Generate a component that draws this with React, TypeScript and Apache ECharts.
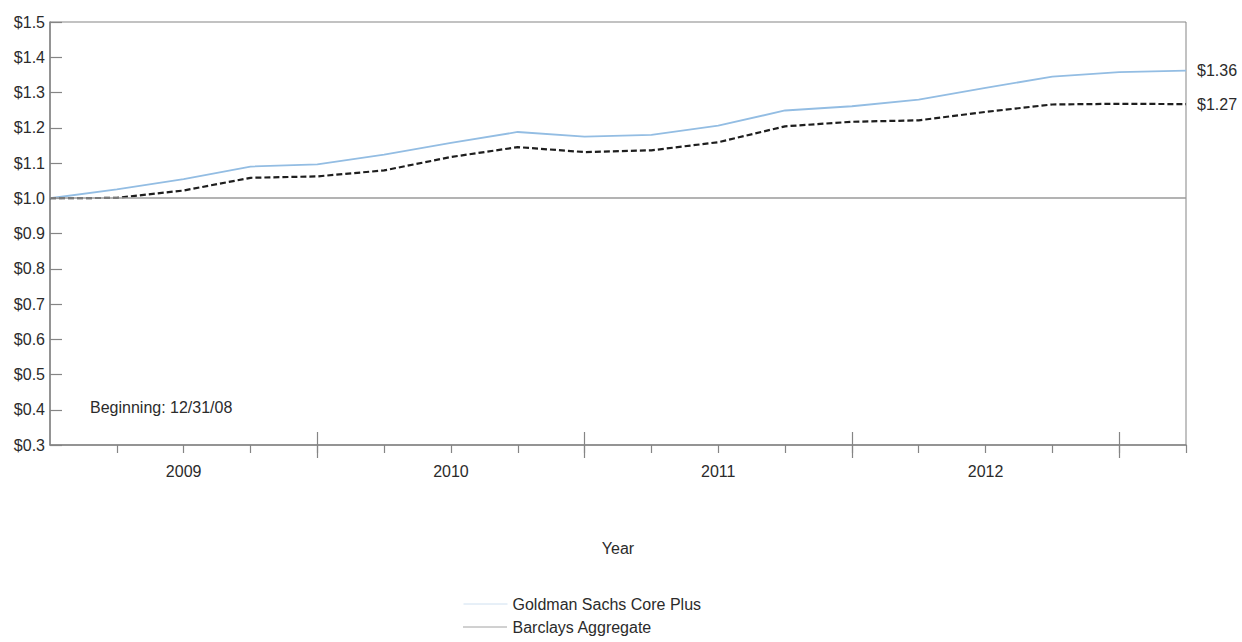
import React, { useEffect, useRef } from "react";
import * as echarts from "echarts";

const quarters = [
  "12/08", "3/09", "6/09", "9/09", "12/09", "3/10", "6/10", "9/10", "12/10",
  "3/11", "6/11", "9/11", "12/11", "3/12", "6/12", "9/12", "12/12", "3/13",
];
const goldmanName = "Goldman Sachs Core Plus";
const barclaysName = "Barclays Aggregate";
const goldman = [
  1.0, 1.025, 1.054, 1.09, 1.096, 1.124, 1.157, 1.188, 1.175, 1.18, 1.206,
  1.249, 1.261, 1.28, 1.313, 1.345, 1.358, 1.362,
];
const barclays = [
  1.0, 1.001, 1.022, 1.058, 1.062, 1.079, 1.117, 1.145, 1.131, 1.136, 1.159,
  1.204, 1.217, 1.221, 1.245, 1.266, 1.268, 1.267,
];
const yMin = 0.3;
const yMax = 1.5;
const yStep = 0.1;
const baseValue = 1.0;
const noteText = "Beginning: 12/31/08";
const xName = "Year";

const FONT = "'Liberation Sans', Arial, sans-serif";
const AXIS = "#858585";
const TEXT = "#2b2b2b";

export default function App() {
  const ref = useRef<HTMLDivElement>(null);
  useEffect(() => {
    if (!ref.current) return;
    const chart = echarts.init(ref.current, undefined, { renderer: "svg" });
    const baseX = {
      type: "category",
      data: quarters,
      boundaryGap: false,
      position: "bottom",
      gridIndex: 0,
    };
    chart.setOption({
      animation: false,
      textStyle: { fontFamily: FONT },
      grid: {
        left: 50,
        right: 56,
        top: 22,
        bottom: 197,
        show: true,
        borderColor: AXIS,
        borderWidth: 1,
      },
      xAxis: [
        {
          ...baseX,
          name: xName,
          nameLocation: "middle",
          nameGap: 95,
          nameTextStyle: { fontSize: 16, color: TEXT, fontFamily: FONT },
          axisLine: { show: true, lineStyle: { color: AXIS, width: 1.5 } },
          axisTick: {
            show: true,
            interval: (i: number) => i > 0,
            length: 8,
            lineStyle: { color: AXIS, width: 1.2 },
          },
          axisLabel: {
            show: true,
            interval: (i: number) => i % 4 === 2,
            formatter: (v: string) => "20" + v.split("/")[1],
            margin: 18,
            fontSize: 16,
            color: TEXT,
            fontFamily: FONT,
          },
          splitLine: { show: false },
        },
        {
          ...baseX,
          axisLine: { show: false },
          axisTick: {
            show: true,
            interval: (i: number) => i > 0 && i % 4 === 0,
            length: 13,
            lineStyle: { color: AXIS, width: 1.2 },
          },
          axisLabel: { show: false },
          splitLine: { show: false },
        },
        {
          ...baseX,
          axisLine: { show: false },
          axisTick: {
            show: true,
            inside: true,
            interval: (i: number) => i > 0 && i % 4 === 0,
            length: 13,
            lineStyle: { color: AXIS, width: 1.2 },
          },
          axisLabel: { show: false },
          splitLine: { show: false },
        },
      ],
      yAxis: {
        type: "value",
        min: yMin,
        max: yMax,
        interval: yStep,
        axisLine: { show: true, lineStyle: { color: AXIS, width: 1.5 } },
        axisTick: {
          show: true,
          inside: true,
          length: 12,
          lineStyle: { color: AXIS, width: 1.2 },
        },
        axisLabel: {
          formatter: (v: number) => "$" + v.toFixed(1),
          margin: 5,
          fontSize: 16,
          color: TEXT,
          fontFamily: FONT,
        },
        splitLine: { show: false },
      },
      legend: {
        orient: "vertical",
        left: 463,
        top: 596,
        itemWidth: 44,
        itemHeight: 14,
        itemGap: 7,
        padding: 0,
        textStyle: { fontSize: 16, color: TEXT, fontFamily: FONT },
        data: [
          {
            name: goldmanName,
            itemStyle: { opacity: 0 },
            lineStyle: { color: "#cfe0f0", width: 1, type: "solid" },
          },
          {
            name: barclaysName,
            itemStyle: { opacity: 0 },
            lineStyle: { color: "#444", width: 1, type: [1, 1] },
          },
        ],
      },
      graphic: [
        {
          type: "text",
          left: 90,
          top: 399,
          style: {
            text: noteText,
            fontSize: 16,
            fill: TEXT,
            fontFamily: FONT,
          },
        },
      ],
      series: [
        {
          name: goldmanName,
          type: "line",
          data: goldman,
          symbol: "none",
          lineStyle: { color: "#93bde3", width: 1.8 },
          itemStyle: { color: "#93bde3" },
          z: 3,
          endLabel: {
            show: true,
            formatter: (p: any) => "$" + Number(p.value).toFixed(2),
            distance: 11,
            fontSize: 16,
            color: TEXT,
            fontFamily: FONT,
          },
          markLine: {
            silent: true,
            symbol: "none",
            label: { show: false },
            lineStyle: { color: "#9a9a9a", type: "solid", width: 1.5 },
            data: [{ yAxis: baseValue }],
          },
        },
        {
          name: barclaysName,
          type: "line",
          data: barclays,
          symbol: "none",
          lineStyle: { color: "#1e1e1e", width: 2.2, type: [6, 3] },
          itemStyle: { color: "#1e1e1e" },
          z: 4,
          endLabel: {
            show: true,
            formatter: (p: any) => "$" + Number(p.value).toFixed(2),
            distance: 11,
            fontSize: 16,
            color: TEXT,
            fontFamily: FONT,
          },
        },
      ],
    });
    return () => chart.dispose();
  }, []);
  return (
    <div
      ref={ref}
      style={{
        position: "fixed",
        left: 0,
        top: 0,
        width: 1242,
        height: 642,
        background: "#fff",
      }}
    />
  );
}
